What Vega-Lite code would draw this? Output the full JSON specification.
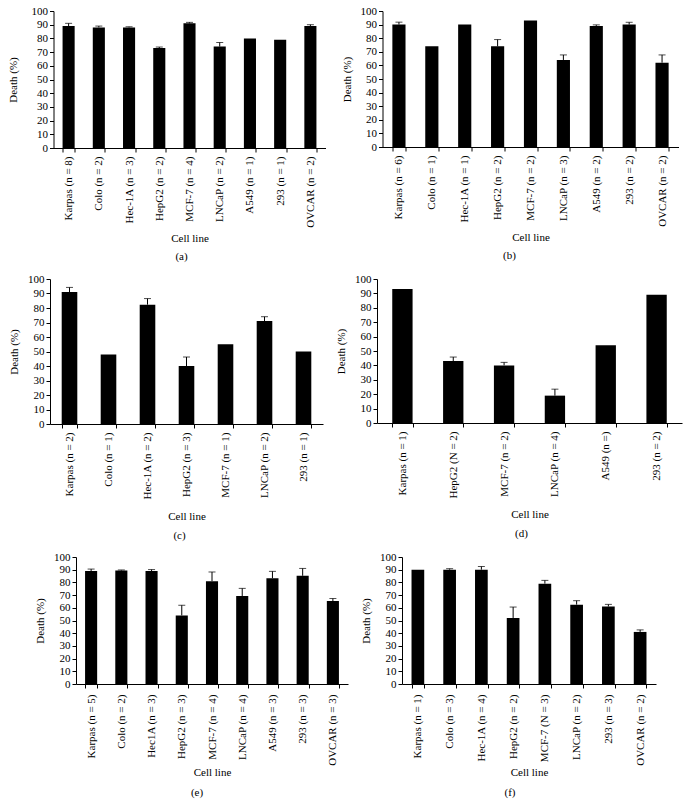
{
  "$schema": "https://vega.github.io/schema/vega-lite/v6.json",
  "padding": {"left": 7, "top": 5, "right": 7, "bottom": 4},
  "background": "white",
  "config": {
    "font": "Liberation Serif",
    "view": {"stroke": null},
    "axis": {
      "grid": false,
      "domainColor": "black",
      "tickColor": "black",
      "labelColor": "black",
      "titleColor": "black",
      "labelFont": "Liberation Serif",
      "titleFont": "Liberation Serif",
      "labelFontSize": 11,
      "titleFontSize": 11,
      "titleFontWeight": "normal",
      "labelFontWeight": "normal",
      "tickSize": 4
    },
    "axisX": {"labelAngle": -90, "tickBand": "extent", "labelPadding": 4, "titlePadding": 5},
    "axisY": {"labelPadding": 2, "titlePadding": 8},
    "title": {"font": "Liberation Serif", "fontSize": 11, "fontWeight": "normal", "color": "black", "orient": "bottom", "anchor": "middle", "frame": "group", "offset": 8},
    "bar": {"color": "black"},
    "rule": {"color": "black"},
    "tick": {"color": "black"}
  },
  "datasets": {
    "a": [
      {"cell": "Karpas (n = 8)", "death": 89, "hi": 91},
      {"cell": "Colo (n = 2)", "death": 88, "hi": 89},
      {"cell": "Hec-1A (n = 3)", "death": 88, "hi": 88.5},
      {"cell": "HepG2 (n = 2)", "death": 73, "hi": 73.7},
      {"cell": "MCF-7 (n = 4)", "death": 91, "hi": 91.7},
      {"cell": "LNCaP (n = 2)", "death": 74, "hi": 77},
      {"cell": "A549 (n = 1)", "death": 80, "hi": null},
      {"cell": "293 (n = 1)", "death": 79, "hi": null},
      {"cell": "OVCAR (n = 2)", "death": 89, "hi": 90}
    ],
    "b": [
      {"cell": "Karpas (n = 6)", "death": 90, "hi": 91.8},
      {"cell": "Colo (n = 1)", "death": 74, "hi": null},
      {"cell": "Hec-1A (n = 1)", "death": 90, "hi": null},
      {"cell": "HepG2 (n = 2)", "death": 74, "hi": 79},
      {"cell": "MCF-7 (n = 2)", "death": 93, "hi": null},
      {"cell": "LNCaP (n = 3)", "death": 64, "hi": 67.7},
      {"cell": "A549 (n = 2)", "death": 89, "hi": 89.8},
      {"cell": "293 (n = 2)", "death": 90, "hi": 91.7},
      {"cell": "OVCAR (n = 2)", "death": 62, "hi": 67.7}
    ],
    "c": [
      {"cell": "Karpas (n = 2)", "death": 91, "hi": 94.2},
      {"cell": "Colo (n = 1)", "death": 48, "hi": null},
      {"cell": "Hec-1A (n = 2)", "death": 82.3, "hi": 86.5},
      {"cell": "HepG2 (n = 3)", "death": 40, "hi": 46.2},
      {"cell": "MCF-7 (n = 1)", "death": 55, "hi": null},
      {"cell": "LNCaP (n = 2)", "death": 71, "hi": 74},
      {"cell": "293 (n = 1)", "death": 50, "hi": null}
    ],
    "d": [
      {"cell": "Karpas (n = 1)", "death": 93, "hi": null},
      {"cell": "HepG2 (N = 2)", "death": 43, "hi": 45.8},
      {"cell": "MCF-7 (n = 2)", "death": 40, "hi": 42.1},
      {"cell": "LNCaP (n = 4)", "death": 19, "hi": 23.5},
      {"cell": "A549 (n =)", "death": 54, "hi": null},
      {"cell": "293 (n = 2)", "death": 89, "hi": null}
    ],
    "e": [
      {"cell": "Karpas (n = 5)", "death": 89, "hi": 90.5},
      {"cell": "Colo (n = 2)", "death": 89.3, "hi": 89.8},
      {"cell": "Hec1A (n = 3)", "death": 89, "hi": 90.1},
      {"cell": "HepG2 (n = 3)", "death": 54, "hi": 62},
      {"cell": "MCF-7 (n = 4)", "death": 81, "hi": 88.2},
      {"cell": "LNCaP (n = 4)", "death": 69.3, "hi": 75.3},
      {"cell": "A549 (n = 3)", "death": 83.3, "hi": 88.7},
      {"cell": "293 (n = 3)", "death": 85.2, "hi": 91},
      {"cell": "OVCAR (n = 3)", "death": 65.3, "hi": 67.3}
    ],
    "f": [
      {"cell": "Karpas (n = 1)", "death": 90, "hi": null},
      {"cell": "Colo (n = 3)", "death": 90, "hi": 90.8},
      {"cell": "Hec-1A (n = 4)", "death": 90, "hi": 92.5},
      {"cell": "HepG2 (n = 2)", "death": 52, "hi": 60.6},
      {"cell": "MCF-7 (N = 3)", "death": 79, "hi": 81.6},
      {"cell": "LNCaP (n = 2)", "death": 62.5, "hi": 65.6},
      {"cell": "293 (n = 3)", "death": 61, "hi": 62.7},
      {"cell": "OVCAR (n = 2)", "death": 41, "hi": 42.6}
    ]
  },
  "center": true,
  "spacing": 10,
  "vconcat": [
    {
      "spacing": 15,
      "hconcat": [
        {
          "data": {"name": "a"}, "width": 272, "height": 137, "title": {"text": "(a)", "dx": -8},
          "encoding": {
            "x": {"field": "cell", "type": "nominal", "sort": null, "title": "Cell line", "scale": {"paddingInner": 0.6, "paddingOuter": 0.3}},
            "y": {"field": "death", "type": "quantitative", "title": "Death (%)", "scale": {"domain": [0, 100], "nice": false}, "axis": {"values": [0, 10, 20, 30, 40, 50, 60, 70, 80, 90, 100], "labelOverlap": false, "tickCount": 11, "titlePadding": 13}}
          },
          "layer": [
            {"mark": "bar"},
            {"transform": [{"filter": "datum.hi != null"}], "mark": "rule", "encoding": {"y2": {"field": "hi"}}},
            {"transform": [{"filter": "datum.hi != null"}], "mark": {"type": "tick", "size": 7, "thickness": 1}, "encoding": {"y": {"field": "hi", "type": "quantitative", "title": "Death (%)", "axis": {"values": [0, 10, 20, 30, 40, 50, 60, 70, 80, 90, 100], "labelOverlap": false, "tickCount": 11, "titlePadding": 13}}}}
          ]
        },
        {
          "data": {"name": "b"}, "width": 296, "height": 136, "title": {"text": "(b)", "dx": -21},
          "encoding": {
            "x": {"field": "cell", "type": "nominal", "sort": null, "title": "Cell line", "scale": {"paddingInner": 0.6, "paddingOuter": 0.3}},
            "y": {"field": "death", "type": "quantitative", "title": "Death (%)", "scale": {"domain": [0, 100], "nice": false}, "axis": {"values": [0, 10, 20, 30, 40, 50, 60, 70, 80, 90, 100], "labelOverlap": false, "tickCount": 11}}
          },
          "layer": [
            {"mark": "bar"},
            {"transform": [{"filter": "datum.hi != null"}], "mark": "rule", "encoding": {"y2": {"field": "hi"}}},
            {"transform": [{"filter": "datum.hi != null"}], "mark": {"type": "tick", "size": 7, "thickness": 1}, "encoding": {"y": {"field": "hi", "type": "quantitative", "title": "Death (%)", "axis": {"values": [0, 10, 20, 30, 40, 50, 60, 70, 80, 90, 100], "labelOverlap": false, "tickCount": 11}}}}
          ]
        }
      ]
    },
    {
      "spacing": 12,
      "hconcat": [
        {
          "data": {"name": "c"}, "width": 273, "height": 145, "title": {"text": "(c)", "dx": -7},
          "encoding": {
            "x": {"field": "cell", "type": "nominal", "sort": null, "title": "Cell line", "scale": {"paddingInner": 0.6, "paddingOuter": 0.3}, "axis": {"titlePadding": 11}},
            "y": {"field": "death", "type": "quantitative", "title": "Death (%)", "scale": {"domain": [0, 100], "nice": false}, "axis": {"values": [0, 10, 20, 30, 40, 50, 60, 70, 80, 90, 100], "labelOverlap": false, "tickCount": 11}}
          },
          "layer": [
            {"mark": "bar"},
            {"transform": [{"filter": "datum.hi != null"}], "mark": "rule", "encoding": {"y2": {"field": "hi"}}},
            {"transform": [{"filter": "datum.hi != null"}], "mark": {"type": "tick", "size": 7, "thickness": 1}, "encoding": {"y": {"field": "hi", "type": "quantitative", "title": "Death (%)", "axis": {"values": [0, 10, 20, 30, 40, 50, 60, 70, 80, 90, 100], "labelOverlap": false, "tickCount": 11}}}}
          ]
        },
        {
          "data": {"name": "d"}, "width": 305, "height": 144, "title": {"text": "(d)", "dx": -8},
          "encoding": {
            "x": {"field": "cell", "type": "nominal", "sort": null, "title": "Cell line", "scale": {"paddingInner": 0.6, "paddingOuter": 0.3}, "axis": {"titlePadding": 11}},
            "y": {"field": "death", "type": "quantitative", "title": "Death (%)", "scale": {"domain": [0, 100], "nice": false}, "axis": {"values": [0, 10, 20, 30, 40, 50, 60, 70, 80, 90, 100], "labelOverlap": false, "tickCount": 11}}
          },
          "layer": [
            {"mark": "bar"},
            {"transform": [{"filter": "datum.hi != null"}], "mark": "rule", "encoding": {"y2": {"field": "hi"}}},
            {"transform": [{"filter": "datum.hi != null"}], "mark": {"type": "tick", "size": 7, "thickness": 1}, "encoding": {"y": {"field": "hi", "type": "quantitative", "title": "Death (%)", "axis": {"values": [0, 10, 20, 30, 40, 50, 60, 70, 80, 90, 100], "labelOverlap": false, "tickCount": 11}}}}
          ]
        }
      ]
    },
    {
      "spacing": 12,
      "hconcat": [
        {
          "data": {"name": "e"}, "width": 272, "height": 127, "title": {"text": "(e)", "offset": 10, "dx": -15},
          "encoding": {
            "x": {"field": "cell", "type": "nominal", "sort": null, "title": "Cell line", "scale": {"paddingInner": 0.6, "paddingOuter": 0.3}, "axis": {"labelPadding": 6, "titlePadding": 1}},
            "y": {"field": "death", "type": "quantitative", "title": "Death (%)", "scale": {"domain": [0, 100], "nice": false}, "axis": {"values": [0, 10, 20, 30, 40, 50, 60, 70, 80, 90, 100], "labelOverlap": false, "tickCount": 11}}
          },
          "layer": [
            {"mark": "bar"},
            {"transform": [{"filter": "datum.hi != null"}], "mark": "rule", "encoding": {"y2": {"field": "hi"}}},
            {"transform": [{"filter": "datum.hi != null"}], "mark": {"type": "tick", "size": 7, "thickness": 1}, "encoding": {"y": {"field": "hi", "type": "quantitative", "title": "Death (%)", "axis": {"values": [0, 10, 20, 30, 40, 50, 60, 70, 80, 90, 100], "labelOverlap": false, "tickCount": 11}}}}
          ]
        },
        {
          "data": {"name": "f"}, "width": 254, "height": 127, "title": {"text": "(f)", "offset": 10, "dx": -19},
          "encoding": {
            "x": {"field": "cell", "type": "nominal", "sort": null, "title": "Cell line", "scale": {"paddingInner": 0.6, "paddingOuter": 0.3}, "axis": {"labelPadding": 6, "titlePadding": 1}},
            "y": {"field": "death", "type": "quantitative", "title": "Death (%)", "scale": {"domain": [0, 100], "nice": false}, "axis": {"values": [0, 10, 20, 30, 40, 50, 60, 70, 80, 90, 100], "labelOverlap": false, "tickCount": 11}}
          },
          "layer": [
            {"mark": "bar"},
            {"transform": [{"filter": "datum.hi != null"}], "mark": "rule", "encoding": {"y2": {"field": "hi"}}},
            {"transform": [{"filter": "datum.hi != null"}], "mark": {"type": "tick", "size": 7, "thickness": 1}, "encoding": {"y": {"field": "hi", "type": "quantitative", "title": "Death (%)", "axis": {"values": [0, 10, 20, 30, 40, 50, 60, 70, 80, 90, 100], "labelOverlap": false, "tickCount": 11}}}}
          ]
        }
      ]
    }
  ]
}
